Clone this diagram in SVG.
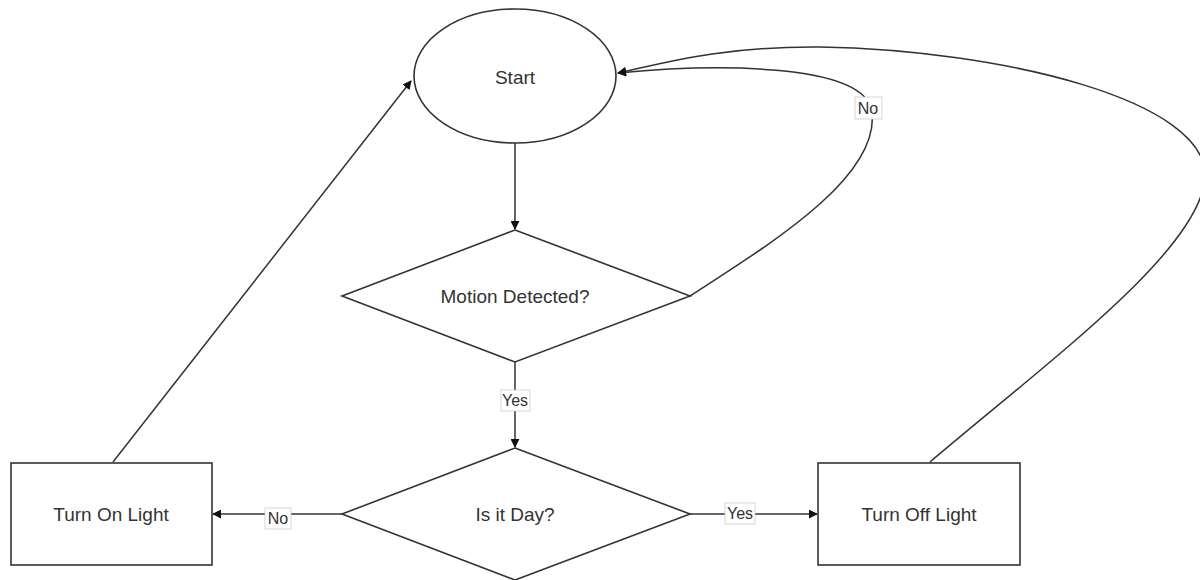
<svg xmlns="http://www.w3.org/2000/svg" width="1200" height="580" viewBox="0 0 1200 580">
<style>
.shape{fill:#fff;stroke:#333;stroke-width:1.6}
.edge{fill:none;stroke:#333;stroke-width:1.5}
.t{font-family:"Liberation Sans",Arial,sans-serif;font-size:19px;fill:#333;text-anchor:middle;dominant-baseline:central}
.t2{font-family:"Liberation Sans",Arial,sans-serif;font-size:16px;fill:#333;text-anchor:middle;dominant-baseline:central}
.lb{fill:#fff;stroke:#ccc;stroke-width:0.8}
</style>
<defs>
<marker id="arr" viewBox="0 0 10 10" refX="9" refY="5" markerWidth="9" markerHeight="9" orient="auto" markerUnits="userSpaceOnUse">
<path d="M0,0 L10,5 L0,10 z" fill="#111"/>
</marker>
</defs>
<rect width="1200" height="580" fill="#fff"/>
<g id="connectors">
<path class="edge" d="M515,143 L515,229" marker-end="url(#arr)"/>
<path class="edge" d="M515,362 L515,447" marker-end="url(#arr)"/>
<path class="edge" d="M342,514 L213,514" marker-end="url(#arr)"/>
<path class="edge" d="M690,514 L817,514" marker-end="url(#arr)"/>
<path class="edge" d="M113,462 L411,81" marker-end="url(#arr)"/>
<path class="edge" d="M690,296 C760,250 880,180 872,112 C865,60 700,65 618,73" marker-end="url(#arr)"/>
<path class="edge" d="M930,462 C1050,360 1200,250 1205,178 C1210,100 1000,50 820,47 C720,46 660,64 618,73" marker-end="url(#arr)"/>
<g id="label-yes1"><rect class="lb" x="501" y="390" width="29" height="21"/><text class="t2" x="515" y="400.5">Yes</text></g>
<g id="label-no1"><rect class="lb" x="855" y="97" width="27" height="22"/><text class="t2" x="868" y="108">No</text></g>
<g id="label-no2"><rect class="lb" x="265" y="508" width="26" height="21"/><text class="t2" x="278" y="518.5">No</text></g>
<g id="label-yes2"><rect class="lb" x="725" y="503" width="30" height="21"/><text class="t2" x="740" y="513.5">Yes</text></g>
</g>
<g id="start"><ellipse class="shape" cx="515" cy="76" rx="101" ry="67"/><text class="t" x="515" y="77">Start</text></g>
<g id="motion"><polygon class="shape" points="515,230 690,296 515,362 342,296"/><text class="t" x="515" y="296">Motion Detected?</text></g>
<g id="day"><polygon class="shape" points="515,448 690,514 515,580 342,514"/><text class="t" x="515" y="514">Is it Day?</text></g>
<g id="turn-on"><rect class="shape" x="11" y="463" width="201" height="102"/><text class="t" x="111" y="514">Turn On Light</text></g>
<g id="turn-off"><rect class="shape" x="818" y="463" width="202" height="102"/><text class="t" x="919" y="514">Turn Off Light</text></g>
</svg>
